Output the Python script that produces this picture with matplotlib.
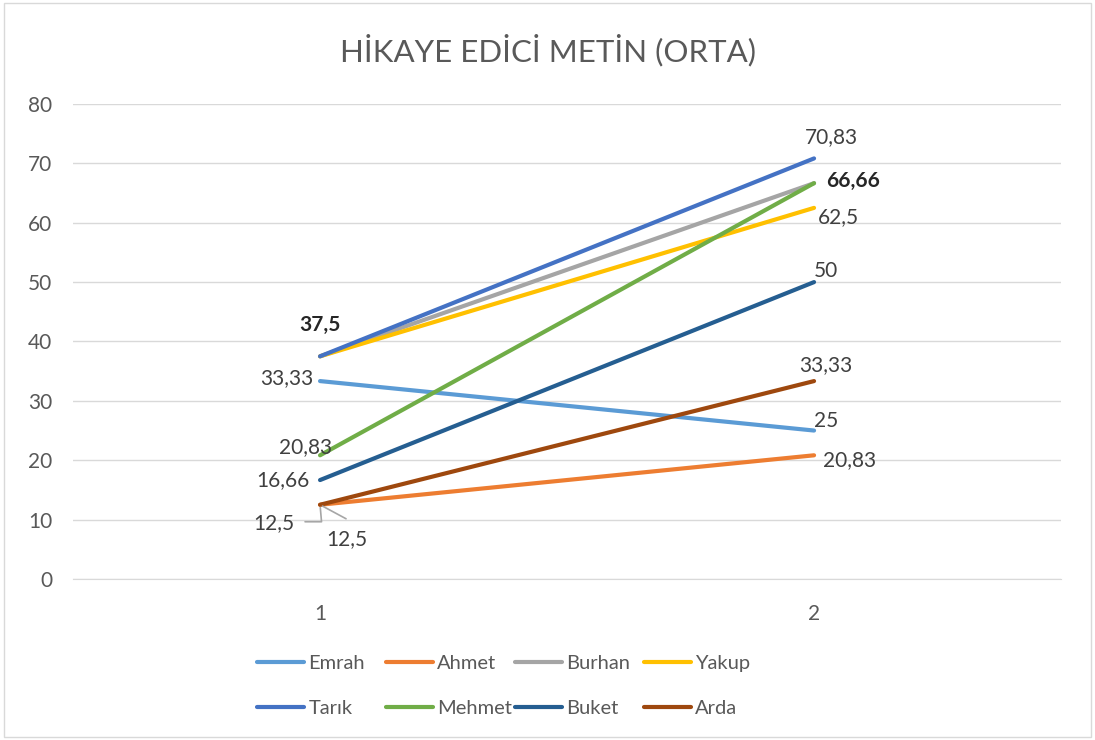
import matplotlib.pyplot as plt
from matplotlib.patches import Rectangle

plt.rcParams['font.family'] = ['Lato', 'DejaVu Sans']

# Scores per student, two measurements
periods = [1, 2]
names = ['Emrah', 'Ahmet', 'Burhan', 'Yakup', 'Tarık', 'Mehmet', 'Buket', 'Arda']
emrah = [33.33, 25]
ahmet = [12.5, 20.83]
burhan = [37.5, 66.66]
yakup = [37.5, 62.5]
tarik = [37.5, 70.83]
mehmet = [20.83, 66.66]
buket = [16.66, 50]
arda = [12.5, 33.33]
series = [emrah, ahmet, burhan, yakup, tarik, mehmet, buket, arda]
colors = ['#5B9BD5', '#ED7D31', '#A5A5A5', '#FFC000',
          '#4472C4', '#70AD47', '#255E91', '#9E480E']

txt = '#404040'
W, H = 1095, 740
fig = plt.figure(figsize=(W / 100, H / 100), dpi=100)
ax = fig.add_axes([0.0667, 0.2176, 0.9023, 0.6419])
fig.patches.append(Rectangle((0.004, 0.004), 0.992, 0.992, transform=fig.transFigure,
                             fill=False, edgecolor='#D9D9D9', linewidth=1))

lines = {}
for name, vals, c in zip(names, series, colors):
    ln, = ax.plot(periods, vals, color=c, linewidth=3, solid_capstyle='round', label=name)
    lines[name] = ln

ax.set_xlim(0.5, 2.5)
ax.set_ylim(0, 80)
ax.set_yticks(range(0, 81, 10))
ax.set_xticks(periods)
ax.grid(axis='y', color='#D9D9D9', linewidth=1)
ax.set_axisbelow(True)
for s in ['top', 'right', 'left']:
    ax.spines[s].set_visible(False)
ax.spines['bottom'].set_color('#D9D9D9')
ax.tick_params(length=0, labelsize=15, labelcolor='#595959')
ax.tick_params(axis='x', pad=18)
ax.tick_params(axis='y', pad=15)

fig.text(0.5, 0.932, 'HİKAYE EDİCİ METİN (ORTA)', ha='center', va='center',
         fontsize=22.5, color='#595959')

# data labels: (series, index, dx px, dy px, ha, bold)
labels = [
    (tarik, 0, 0, 31, 'center', True),
    (emrah, 0, -7, 3, 'right', False),
    (mehmet, 0, -14, 8, 'center', False),
    (buket, 0, -11, 0, 'right', False),
    (tarik, 1, 17, 21, 'center', False),
    (burhan, 1, 12, 2, 'left', True),
    (yakup, 1, 4, -9, 'left', False),
    (buket, 1, 0, 11, 'left', False),
    (arda, 1, 12, 16, 'center', False),
    (emrah, 1, 0, 10, 'left', False),
    (ahmet, 1, 9, -5, 'left', False),
]
for vals, i, dx, dy, ha, bold in labels:
    s = f'{vals[i]:g}'.replace('.', ',')
    ax.annotate(s, (periods[i], vals[i]), xytext=(dx, dy), textcoords='offset pixels',
                ha=ha, va='center', fontsize=15, color='#262626' if bold else txt,
                fontweight='bold' if bold else 'normal')

# the two 12,5 labels sit off the point, joined to it by leader lines
leader = dict(arrowstyle='-', color='#A6A6A6', lw=1.2, shrinkA=0, shrinkB=2)
ax.annotate('', (1, ahmet[0]), xytext=(-15, -17), textcoords='offset pixels',
            arrowprops=dict(leader, connectionstyle='angle,angleA=0,angleB=95,rad=0'))
ax.annotate('12,5', (1, ahmet[0]), xytext=(-26, -18), textcoords='offset pixels',
            ha='right', va='center', fontsize=15, color=txt)
ax.annotate('', (1, arda[0]), xytext=(26, -14), textcoords='offset pixels',
            arrowprops=leader)
ax.annotate('12,5', (1, arda[0]), xytext=(6, -34), textcoords='offset pixels',
            ha='left', va='center', fontsize=15, color=txt)

# legend: fixed-width cells, two rows of four
order = [['Emrah', 'Ahmet', 'Burhan', 'Yakup'],
         ['Tarık', 'Mehmet', 'Buket', 'Arda']]
for r, row in enumerate(order):
    for c, name in enumerate(row):
        x = (257 + 129 * c) / W
        y = 1 - (663 + 45 * r) / H
        fig.legend([lines[name]], [name], loc='center left', bbox_to_anchor=(x, y),
                   frameon=False, fontsize=14.5, labelcolor='#595959',
                   handlelength=2.35, handletextpad=0.2, borderpad=0, borderaxespad=0)

fig.savefig('out.png', dpi=100)
